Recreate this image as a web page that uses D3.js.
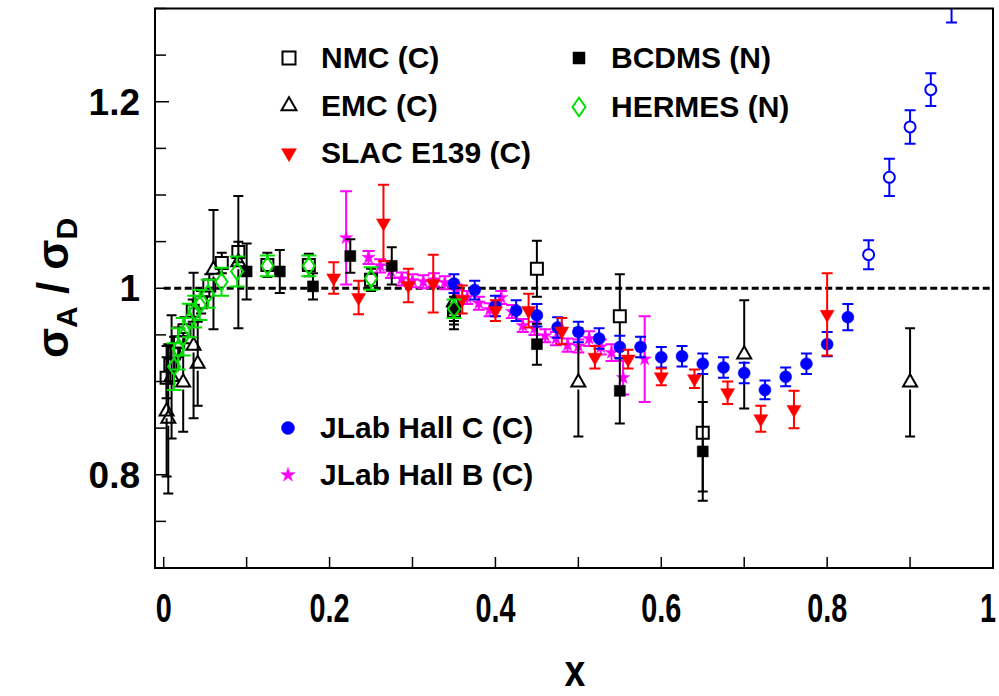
<!DOCTYPE html>
<html>
<head>
<meta charset="utf-8">
<script src="https://cdn.jsdelivr.net/npm/d3@7"></script>
<style>
  body { margin: 0; background: #fff; }
  text { font-family: "Liberation Sans", Arial, sans-serif; font-weight: bold; fill: #000; }
</style>
</head>
<body>
<div id="chart"></div>
<script>
// each point: [x, ratio, error]
var nmc = [
  [0.0035, 0.904, 0.022], [0.008, 0.918, 0.020], [0.0125, 0.930, 0.018], [0.0175, 0.942, 0.016],
  [0.025, 0.955, 0.014], [0.035, 0.976, 0.012], [0.045, 0.985, 0.012], [0.055, 1.003, 0.012],
  [0.07, 1.027, 0.011], [0.09, 1.039, 0.011], [0.125, 1.025, 0.013], [0.175, 1.025, 0.012],
  [0.25, 1.009, 0.012], [0.35, 0.976, 0.015], [0.45, 1.021, 0.030], [0.55, 0.970, 0.045],
  [0.65, 0.845, 0.063]
];
var emc = [
  [0.0035, 0.868, 0.070], [0.0055, 0.860, 0.080], [0.0095, 0.905, 0.066], [0.0235, 0.899, 0.053],
  [0.036, 0.9385, 0.078], [0.041, 0.919, 0.045], [0.06, 1.020, 0.064], [0.09, 1.028, 0.071],
  [0.35, 0.985, 0.020], [0.50, 0.899, 0.058], [0.70, 0.929, 0.058], [0.90, 0.899, 0.058]
];
var bcdms = [
  [0.10, 1.018, 0.030], [0.14, 1.018, 0.023], [0.18, 1.002, 0.014], [0.225, 1.0345, 0.018],
  [0.275, 1.024, 0.020], [0.35, 0.978, 0.022], [0.45, 0.940, 0.022], [0.55, 0.890, 0.035],
  [0.65, 0.825, 0.053]
];
var hermes = [
  [0.0125, 0.916, 0.025], [0.0175, 0.935, 0.022], [0.0235, 0.948, 0.020], [0.031, 0.9655, 0.018],
  [0.0375, 0.975, 0.017], [0.0435, 0.982, 0.016], [0.0535, 0.994, 0.015], [0.0697, 1.007, 0.015],
  [0.0886, 1.018, 0.016], [0.125, 1.024, 0.011], [0.175, 1.024, 0.011], [0.25, 1.0105, 0.012],
  [0.35, 0.978, 0.010]
];
var slac = [
  [0.205, 1.011, 0.017], [0.235, 0.990, 0.018], [0.265, 1.070, 0.041], [0.295, 1.003, 0.018],
  [0.325, 1.005, 0.031], [0.36, 0.988, 0.015], [0.40, 0.976, 0.011], [0.44, 0.976, 0.018],
  [0.48, 0.954, 0.014], [0.52, 0.926, 0.012], [0.56, 0.924, 0.010], [0.60, 0.905, 0.009],
  [0.64, 0.903, 0.010], [0.68, 0.888, 0.012], [0.72, 0.860, 0.014], [0.76, 0.870, 0.020],
  [0.80, 0.972, 0.044]
];
var hallB = [
  [0.220, 1.054, 0.050], [0.247, 1.033, 0.007], [0.261, 1.024, 0.007], [0.274, 1.018, 0.007],
  [0.287, 1.010, 0.007], [0.300, 1.008, 0.007], [0.313, 1.007, 0.007], [0.326, 1.009, 0.007],
  [0.339, 1.006, 0.007], [0.353, 0.997, 0.007], [0.366, 0.990, 0.007], [0.380, 0.984, 0.007],
  [0.393, 0.977, 0.007], [0.407, 0.990, 0.007], [0.420, 0.975, 0.007], [0.433, 0.960, 0.007],
  [0.447, 0.957, 0.007], [0.460, 0.949, 0.007], [0.473, 0.946, 0.007], [0.487, 0.939, 0.007],
  [0.500, 0.938, 0.007], [0.513, 0.946, 0.008], [0.527, 0.937, 0.008], [0.540, 0.931, 0.009],
  [0.554, 0.904, 0.018], [0.580, 0.924, 0.046]
];
var hallC = [
  [0.35, 1.005, 0.010], [0.375, 0.998, 0.010], [0.40, 0.981, 0.011], [0.425, 0.976, 0.011],
  [0.45, 0.971, 0.012], [0.475, 0.958, 0.011], [0.50, 0.953, 0.011], [0.525, 0.946, 0.011],
  [0.55, 0.937, 0.012], [0.575, 0.937, 0.011], [0.60, 0.926, 0.011], [0.625, 0.927, 0.011],
  [0.65, 0.919, 0.011], [0.675, 0.915, 0.011], [0.70, 0.909, 0.011], [0.725, 0.891, 0.010],
  [0.75, 0.905, 0.010], [0.775, 0.919, 0.011], [0.80, 0.940, 0.013], [0.825, 0.969, 0.014]
];
var hallCHigh = [
  [0.85, 1.036, 0.0155], [0.875, 1.119, 0.020], [0.90, 1.173, 0.018], [0.925, 1.213, 0.0176],
  [0.95, 1.33, 0.045]
];

var xTicks = [0, 0.2, 0.4, 0.6, 0.8, 1];
var yTicks = [0.8, 1, 1.2];

var width = 999, height = 696;
var svg = d3.select("#chart").append("svg")
  .attr("width", width)
  .attr("height", height);

var x = d3.scaleLinear().domain([-0.0105, 1]).range([155, 993]);
var y = d3.scaleLinear().domain([0.7, 1.3]).range([568, 8.5]);

svg.append("clipPath").attr("id", "plotclip")
  .append("rect")
    .attr("x", x.range()[0]).attr("y", y.range()[1])
    .attr("width", x.range()[1] - x.range()[0])
    .attr("height", y.range()[0] - y.range()[1]);

// marker shapes, centred on 0,0
var shapes = {
  square: function(s){ var h = s / 2; return "M" + -h + "," + -h + "H" + h + "V" + h + "H" + -h + "Z"; },
  triUp: function(s){ var h = s * 0.866; return "M0," + (-2*h/3) + "L" + s/2 + "," + h/3 + "L" + -s/2 + "," + h/3 + "Z"; },
  triDown: function(s){ var h = s * 0.866; return "M0," + (2*h/3) + "L" + s/2 + "," + -h/3 + "L" + -s/2 + "," + -h/3 + "Z"; },
  diamond: function(s){ return "M0," + (-s*0.72) + "L" + s/2 + ",0L0," + (s*0.72) + "L" + -s/2 + ",0Z"; },
  // d3 star size is area-like: outer radius = sqrt(size * 0.89)
  star: function(s){ return d3.symbol(d3.symbolStar, (s/2) * (s/2) / 0.89)(); },
  circle: function(s){ return d3.symbol(d3.symbolCircle, Math.PI * s * s / 4)(); }
};

var series = [
  { data: hallB,  shape: "star",    size: 14, color: "#ff00ff", fill: true,  cap: 6 },
  { data: emc,    shape: "triUp",   size: 14, color: "#000",    fill: false, cap: 5 },
  { data: nmc,    shape: "square",  size: 12, color: "#000",    fill: false, cap: 5 },
  { data: bcdms,  shape: "square",  size: 11, color: "#000",    fill: true,  cap: 5 },
  { data: hallC,  shape: "circle",  size: 12, color: "#0000ff", fill: true,  cap: 5.5 },
  { data: hallCHigh, shape: "circle", size: 11, color: "#0000ff", fill: false, cap: 5.5 },
  { data: slac,   shape: "triDown", size: 14, color: "#ff0000", fill: true,  cap: 5.5 },
  { data: hermes, shape: "diamond", size: 12, color: "#00e000", fill: false, cap: 7.5 }
];

// dashed unity line
svg.append("line")
  .attr("x1", x(0)).attr("x2", x(1))
  .attr("y1", y(1)).attr("y2", y(1))
  .attr("stroke", "#000").attr("stroke-width", 3)
  .attr("stroke-dasharray", "7,3.5");

var plot = svg.append("g").attr("clip-path", "url(#plotclip)");

series.forEach(function(s){
  var g = plot.append("g");
  var gap = s.fill ? 0 : s.size / 2;
  s.data.forEach(function(d){
    var cx = x(d[0]), cy = y(d[1]), top = y(d[1] + d[2]), bot = y(d[1] - d[2]);
    var path = "M" + cx + "," + (cy - gap) + "V" + top +
               "M" + cx + "," + (cy + gap) + "V" + bot +
               "M" + (cx - s.cap) + "," + top + "H" + (cx + s.cap) +
               "M" + (cx - s.cap) + "," + bot + "H" + (cx + s.cap);
    g.append("path")
      .attr("d", path)
      .attr("fill", "none")
      .attr("stroke", s.color)
      .attr("stroke-width", 2);
  });
  g.selectAll(".mk")
    .data(s.data)
    .enter().append("path")
      .attr("class", "mk")
      .attr("d", shapes[s.shape](s.size))
      .attr("transform", function(d){ return "translate(" + x(d[0]) + "," + y(d[1]) + ")"; })
      .attr("fill", s.fill ? s.color : "none")
      .attr("stroke", s.color)
      .attr("stroke-width", s.fill ? 0.5 : 2);
});

// frame
svg.append("rect")
  .attr("x", x.range()[0]).attr("y", y.range()[1])
  .attr("width", x.range()[1] - x.range()[0])
  .attr("height", y.range()[0] - y.range()[1])
  .attr("fill", "none").attr("stroke", "#000").attr("stroke-width", 2);

// ticks, drawn inward
var xTickVals = d3.range(0, 1.0001, 0.1);
svg.append("g").selectAll("line")
  .data(xTickVals).enter().append("line")
    .attr("x1", function(d){ return x(d); }).attr("x2", function(d){ return x(d); })
    .attr("y1", y(0.7)).attr("y2", y(0.7) - 11)
    .attr("stroke", "#000").attr("stroke-width", 1.5);

var yTickVals = d3.range(0.7, 1.3001, 0.05);
svg.append("g").selectAll("line")
  .data(yTickVals).enter().append("line")
    .attr("x1", x.range()[0])
    .attr("x2", function(d){ return x.range()[0] + (Math.abs(d * 5 - Math.round(d * 5)) < 1e-6 ? 14 : 11); })
    .attr("y1", function(d){ return y(d); }).attr("y2", function(d){ return y(d); })
    .attr("stroke", "#000").attr("stroke-width", 1.5);

svg.append("g").selectAll("text")
  .data(xTicks).enter().append("text")
    .attr("transform", function(d){ return "translate(" + Math.min(x(d), 988) + ",622) scale(0.72,1)"; })
    .attr("text-anchor", "middle")
    .style("font-size", "40px")
    .text(function(d){ return d3.format("~g")(d); });

svg.append("g").selectAll("text")
  .data(yTicks).enter().append("text")
    .attr("x", 140)
    .attr("y", function(d){ return y(d) + 13; })
    .attr("text-anchor", "end")
    .style("font-size", "37px")
    .text(function(d){ return d3.format("~g")(d); });

// axis titles
svg.append("text")
  .attr("transform", "translate(575,686) scale(0.85,1)")
  .attr("text-anchor", "middle")
  .style("font-size", "44px")
  .text("x");

var yt = svg.append("text")
  .attr("transform", "translate(68,288) rotate(-90)")
  .attr("text-anchor", "middle")
  .style("font-size", "44px");
yt.append("tspan").text("σ");
yt.append("tspan").attr("dy", 9).style("font-size", "30px").text("A");
yt.append("tspan").attr("dy", -9).text(" / σ");
yt.append("tspan").attr("dy", 9).style("font-size", "30px").text("D");

// legends
var legendItems = [
  { label: "NMC (C)",         s: series[2], lx: 289, ly: 58 },
  { label: "EMC (C)",         s: series[1], lx: 289, ly: 106 },
  { label: "SLAC E139 (C)",   s: series[6], lx: 289, ly: 153 },
  { label: "BCDMS (N)",       s: series[3], lx: 579, ly: 58 },
  { label: "HERMES (N)",      s: series[7], lx: 579, ly: 107 },
  { label: "JLab Hall C (C)", s: series[4], lx: 288, ly: 428 },
  { label: "JLab Hall B (C)", s: series[0], lx: 288, ly: 475 }
];
var leg = svg.append("g");
legendItems.forEach(function(it){
  leg.append("path")
    .attr("d", shapes[it.s.shape](it.s.size + 1))
    .attr("transform", "translate(" + it.lx + "," + it.ly + ")")
    .attr("fill", it.s.fill ? it.s.color : "none")
    .attr("stroke", it.s.color)
    .attr("stroke-width", it.s.fill ? 0.5 : 2);
  leg.append("text")
    .attr("x", it.lx + 32)
    .attr("y", it.ly + 10)
    .style("font-size", "30px")
    .text(it.label);
});
</script>
</body>
</html>
